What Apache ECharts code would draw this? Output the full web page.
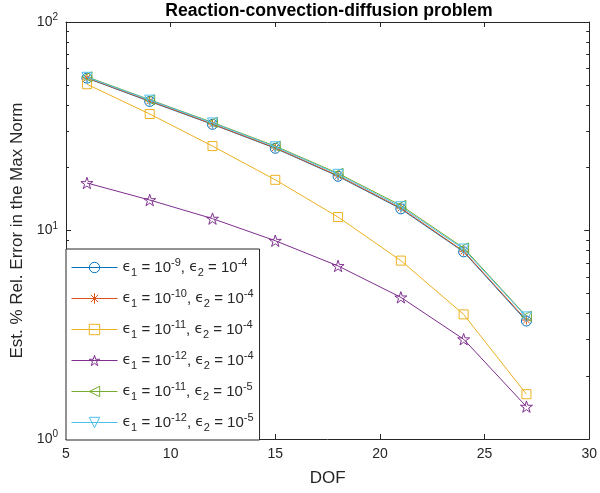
<!DOCTYPE html>
<html>
<head>
<meta charset="utf-8">
<script src="https://cdn.jsdelivr.net/npm/echarts@6/dist/echarts.min.js"></script>
<style>html,body{margin:0;padding:0;background:#fff}#c{width:600px;height:493px}</style>
</head>
<body>
<div id="c"></div>
<script>
var dof = [6, 9, 12, 15, 18, 21, 24, 27];
var s1 = [53.8, 41.6, 32.3, 24.8, 18.2, 12.7, 7.9, 3.68];
var s2 = [53.9, 41.8, 32.4, 24.9, 18.3, 12.8, 7.95, 3.72];
var s3 = [50.3, 36.2, 25.4, 17.5, 11.6, 7.17, 3.96, 1.64];
var s4 = [16.9, 14.0, 11.4, 8.93, 6.76, 4.78, 3.01, 1.43];
var s5 = [54.6, 42.4, 33.0, 25.4, 18.8, 13.2, 8.25, 3.88];
var s6 = [54.3, 42.2, 32.8, 25.2, 18.6, 13.0, 8.15, 3.85];
var eps1Exp = ['-9', '-10', '-11', '-12', '-11', '-12'];
var eps2Exp = ['-4', '-4', '-4', '-4', '-5', '-5'];
var xTicks = [5, 10, 15, 20, 25, 30];
var yMajor = [1, 10, 100];
var yMinor = [2, 3, 4, 5, 6, 7, 8, 9, 20, 30, 40, 50, 60, 70, 80, 90];

var colors = ['#0072BD', '#D95319', '#EDB120', '#7E2F8E', '#77AC30', '#4DBEEE'];
var STAR = 'path://M0,-100L22.45,-30.9L95.1,-30.9L36.3,11.8L58.8,80.9L0,38.2L-58.8,80.9L-36.3,11.8L-95.1,-30.9L-22.45,-30.9Z';
var AST = 'path://M0,-50L0,50M-50,0L50,0M-35,-35L35,35M-35,35L35,-35';
var symbols = [
  {symbol: 'circle', size: 10, rot: 0},
  {symbol: AST, size: 9, rot: 0},
  {symbol: 'rect', size: 9, rot: 0},
  {symbol: STAR, size: 12, rot: 0},
  {symbol: 'triangle', size: 10, rot: 90},
  {symbol: 'triangle', size: 10, rot: 180}
];
var allData = [s1, s2, s3, s4, s5, s6];
var names = ['a', 'b', 'c', 'd', 'e', 'f'];
var FONT = 'Liberation Sans, Arial, Helvetica, sans-serif';
var TXT = '#262626';
var CLEAR = 'rgba(0,0,0,0)';

var series = allData.map(function (vals, i) {
  return {
    name: names[i],
    type: 'line',
    xAxisIndex: 0,
    yAxisIndex: 0,
    data: dof.map(function (x, k) { return [x, vals[k]]; }),
    symbol: symbols[i].symbol,
    symbolSize: symbols[i].size,
    symbolRotate: symbols[i].rot,
    symbolKeepAspect: true,
    showAllSymbol: true,
    lineStyle: {color: colors[i], width: 1},
    itemStyle: {color: CLEAR, borderColor: colors[i], borderWidth: 1},
    emphasis: {disabled: true},
    animation: false,
    z: 2 + i
  };
});

function expLabel(v) {
  var e = Math.round(Math.log(v) / Math.LN10);
  return '{a|10}{b|' + e + '}';
}

var option = {
  animation: false,
  backgroundColor: '#fff',
  title: {
    text: 'Reaction-convection-diffusion problem',
    left: 324, textAlign: 'center', top: -3,
    textStyle: {fontFamily: FONT, fontSize: 17.6, fontWeight: 'bold', color: '#000'}
  },
  grid: {left: 66, right: 8, top: 22, bottom: 54, containLabel: false},
  legend: {
    orient: 'vertical',
    left: 66, top: 249,
    padding: [8, 6, 7, 5],
    itemWidth: 46, itemHeight: 13, itemGap: 10,
    backgroundColor: '#fff',
    borderColor: TXT, borderWidth: 1,
    selectedMode: false,
    data: names.map(function (n, i) {
      return {
        name: n,
        lineStyle: {color: colors[i], width: 1},
        itemStyle: {color: CLEAR, borderColor: colors[i], borderWidth: 1}
      };
    }),
    formatter: function (n) {
      var i = names.indexOf(n);
      return '{e|\u03F5}{s|1}{t| = 10}{p|' + eps1Exp[i] + '}{t|, }{e|\u03F5}{s|2}{t| = 10}{p|' + eps2Exp[i] + '}';
    },
    textStyle: {
      fontFamily: FONT, color: TXT, fontSize: 15,
      rich: {
        e: {fontFamily: 'DejaVu Sans', fontSize: 14, color: TXT, lineHeight: 20},
        t: {fontFamily: FONT, fontSize: 15, color: TXT, lineHeight: 20},
        s: {fontFamily: FONT, fontSize: 11, color: TXT, padding: [10, 0, 0, 0]},
        p: {fontFamily: FONT, fontSize: 11, color: TXT, padding: [0, 0, 10, 0]}
      }
    }
  },
  xAxis: [
    {
      type: 'value', min: 5, max: 30, interval: 5, position: 'bottom',
      name: 'DOF', nameLocation: 'middle', nameGap: 31,
      nameTextStyle: {fontFamily: FONT, fontSize: 17, color: TXT},
      axisLine: {show: true, lineStyle: {color: TXT, width: 1}},
      axisTick: {show: true, inside: true, length: 5, lineStyle: {color: TXT}},
      axisLabel: {fontFamily: FONT, fontSize: 14, color: TXT, margin: 8},
      splitLine: {show: false}
    },
    {
      type: 'value', min: 5, max: 30, interval: 5, position: 'top',
      axisLine: {show: true, lineStyle: {color: TXT, width: 1}},
      axisTick: {show: true, inside: true, length: 5, lineStyle: {color: TXT}},
      axisLabel: {show: false},
      splitLine: {show: false}
    }
  ],
  yAxis: [
    {
      type: 'log', logBase: 10, min: 1, max: 100, position: 'left',
      name: 'Est. % Rel. Error in the Max Norm', nameLocation: 'middle', nameGap: 39,
      nameTextStyle: {fontFamily: FONT, fontSize: 17, color: TXT},
      axisLine: {show: true, lineStyle: {color: TXT, width: 1}},
      axisTick: {show: true, inside: true, length: 5, customValues: yMajor, lineStyle: {color: TXT}},
      axisLabel: {
        customValues: yMajor,
        formatter: expLabel, margin: 8,
        rich: {
          a: {fontFamily: FONT, fontSize: 14, color: TXT},
          b: {fontFamily: FONT, fontSize: 10, color: TXT, padding: [0, 0, 9, 0]}
        }
      },
      splitLine: {show: false}
    },
    {
      type: 'log', logBase: 10, min: 1, max: 100, position: 'right',
      axisLine: {show: true, lineStyle: {color: TXT, width: 1}},
      axisTick: {show: true, inside: true, length: 5, customValues: yMajor, lineStyle: {color: TXT}},
      axisLabel: {show: false},
      splitLine: {show: false}
    },
    {
      type: 'log', logBase: 10, min: 1, max: 100, position: 'left',
      axisLine: {show: false},
      axisTick: {show: true, inside: true, length: 3, customValues: yMinor, lineStyle: {color: TXT}},
      axisLabel: {show: false},
      splitLine: {show: false}
    },
    {
      type: 'log', logBase: 10, min: 1, max: 100, position: 'right',
      axisLine: {show: false},
      axisTick: {show: true, inside: true, length: 3, customValues: yMinor, lineStyle: {color: TXT}},
      axisLabel: {show: false},
      splitLine: {show: false}
    }
  ],
  series: series
};

var chart = echarts.init(document.getElementById('c'), null, {renderer: 'canvas'});
chart.setOption(option);
</script>
</body>
</html>
